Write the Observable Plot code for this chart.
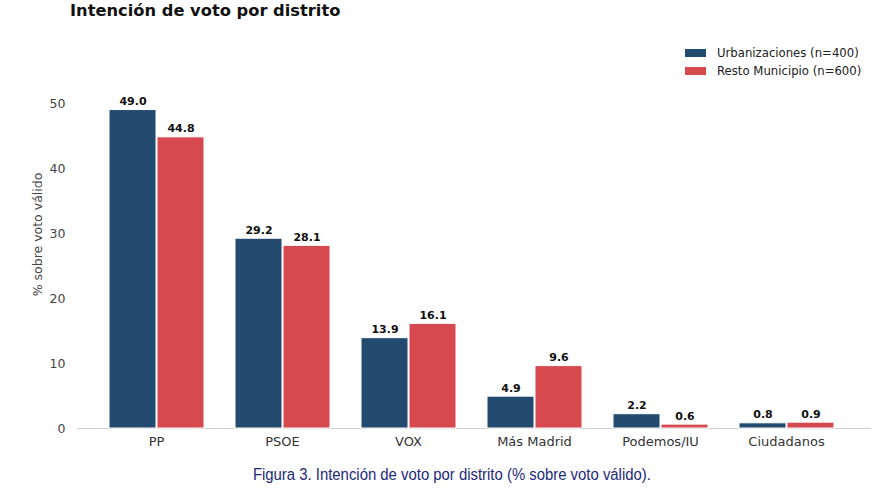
<!DOCTYPE html>
<html>
<head>
<meta charset="utf-8">
<script src="https://cdn.jsdelivr.net/npm/d3@7"></script>
<script src="https://cdn.jsdelivr.net/npm/@observablehq/plot@0.6"></script>
<style>
  html, body { margin: 0; padding: 0; background: #fff; }
  #wrap { position: relative; width: 881px; height: 492px; overflow: hidden; font-family: "DejaVu Sans", sans-serif; }
  #title { position: absolute; left: 70px; top: -1px; font-size: 16.3px; font-weight: bold; color: #111; line-height: 24px; }
  #chart { position: absolute; left: 0; top: 0; }
  #legend { position: absolute; left: 685px; top: 44px; font-size: 11.7px; color: #222; }
  .item { display: flex; align-items: center; height: 18px; }
  .sw { width: 21px; height: 8px; margin-right: 11px; }
  #caption { position: absolute; left: 0; width: 904px; top: 465px; text-align: center; }
  #caption span { display: inline-block; font-family: "Liberation Sans", Arial, sans-serif; font-size: 16px; color: #1c2a7a; transform-origin: center; white-space: nowrap; }
</style>
</head>
<body>
<div id="wrap">
  <div id="chart"></div>
  <div id="title">Intención de voto por distrito</div>
  <div id="legend"></div>
  <div id="caption"><span id="captext">Figura 3. Intención de voto por distrito (% sobre voto válido).</span></div>
</div>
<script>
const parties = ["PP", "PSOE", "VOX", "Más Madrid", "Podemos/IU", "Ciudadanos"];
const seriesNames = ["Urbanizaciones (n=400)", "Resto Municipio (n=600)"];
const urbanizaciones = [49.0, 29.2, 13.9, 4.9, 2.2, 0.8];
const restoMunicipio = [44.8, 28.1, 16.1, 9.6, 0.6, 0.9];
const colors = ["#234b70", "#d6494e"];
const yTicks = [0, 10, 20, 30, 40, 50];

const data = [];
parties.forEach((p, i) => {
  data.push({party: p, series: seriesNames[0], value: urbanizaciones[i]});
  data.push({party: p, series: seriesNames[1], value: restoMunicipio[i]});
});

const chart = Plot.plot({
  width: 881,
  height: 460,
  marginTop: 40,
  marginBottom: 32,
  marginLeft: 91,
  marginRight: 30,
  style: {fontFamily: "DejaVu Sans, sans-serif", background: "transparent"},
  fx: {domain: parties, padding: 0, axis: "bottom", label: null, tickSize: 0, tickPadding: 8},
  x: {domain: seriesNames, axis: null, paddingInner: 0.029, paddingOuter: 0.322},
  y: {domain: [0, 59.7], ticks: yTicks, tickSize: 0, tickPadding: 28, label: "% sobre voto válido", labelAnchor: "center", labelOffset: 60, labelArrow: "none"},
  color: {domain: seriesNames, range: colors},
  marks: [
    Plot.ruleY([0], {stroke: "#d0d0d0", strokeWidth: 1, insetLeft: -16, insetRight: -22}),
    Plot.barY(data, {fx: "party", x: "series", y: "value", fill: "series", stroke: "white", strokeWidth: 1}),
    Plot.text(data, {fx: "party", x: "series", y: "value", text: d => d.value.toFixed(1), dy: -5, lineAnchor: "bottom", fontWeight: "bold", fontSize: 11, fill: "#111"})
  ]
});
document.getElementById("chart").appendChild(chart);

d3.select(chart).selectAll("[aria-label='y-axis tick label'] text").attr("fill", "#444").style("font-size", "12.5px");
d3.select(chart).selectAll("[aria-label='y-axis label'], [aria-label='y-axis label'] text").attr("fill", "#444").style("font-size", "12.5px");
d3.select(chart).selectAll("[aria-label='fx-axis tick label'] text").attr("fill", "#333").style("font-size", "13px");

const legend = document.getElementById("legend");
seriesNames.forEach((s, i) => {
  const item = document.createElement("div");
  item.className = "item";
  const sw = document.createElement("span");
  sw.className = "sw";
  sw.style.background = colors[i];
  const t = document.createElement("span");
  t.textContent = s;
  item.appendChild(sw);
  item.appendChild(t);
  legend.appendChild(item);
});

const cap = document.getElementById("captext");
const w = cap.getBoundingClientRect().width;
cap.style.transform = `scaleX(${398 / w})`;
</script>
</body>
</html>
